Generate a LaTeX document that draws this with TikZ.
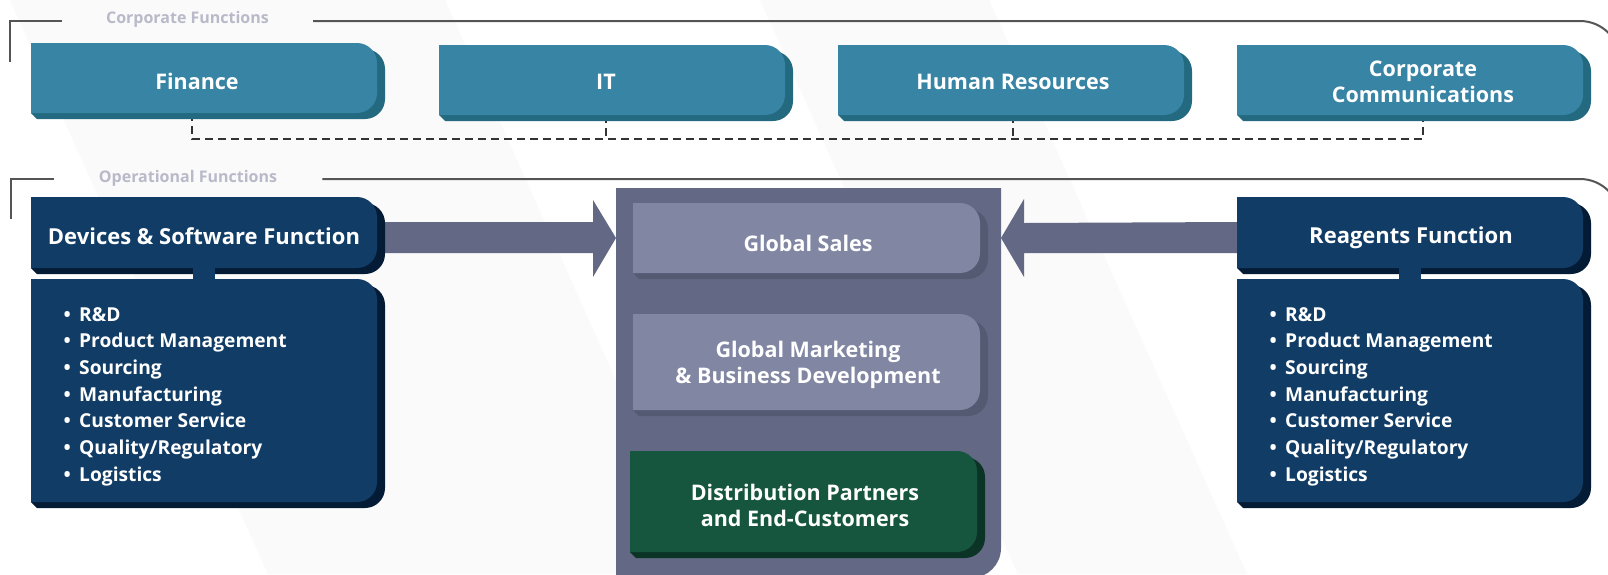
\documentclass[tikz,border=0pt]{standalone}
\usepackage{fontspec}
\setmainfont{Open Sans}
\usetikzlibrary{calc}
\pgfdeclarelayer{front}
\pgfsetlayers{main,front}
\definecolor{ctop}{HTML}{3784A4}
\definecolor{ctopsh}{HTML}{236A80}
\definecolor{cnavy}{HTML}{103C66}
\definecolor{cnavysh}{HTML}{041B36}
\definecolor{cslate}{HTML}{636884}
\definecolor{cgs}{HTML}{8186A3}
\definecolor{cgssh}{HTML}{555A73}
\definecolor{cgreen}{HTML}{16563F}
\definecolor{cgreensh}{HTML}{0B3426}
\definecolor{cline}{HTML}{555555}
\definecolor{clabel}{HTML}{B9B9C9}
\definecolor{cband}{HTML}{FAFAFA}
\definecolor{cdash}{HTML}{333333}
\newcommand{\rbg}[3]{%
 \fill[#3] ([shift={(6pt,-6pt)}]#1.south west) -- (#1.south west) -- (#1.north west) -- ([shift={(-12pt,-6pt)}]#1.north east) arc[start angle=90,end angle=0,radius=20pt] -- ([shift={(8pt,14pt)}]#1.south east) arc[start angle=0,end angle=-90,radius=20pt] -- cycle;
 \fill[#2] (#1.north west) -- ([xshift=-20pt]#1.north east) arc[start angle=90,end angle=0,radius=20pt] -- ([yshift=20pt]#1.south east) arc[start angle=0,end angle=-90,radius=20pt] -- (#1.south west) -- cycle;}
\begin{document}
\begin{tikzpicture}[x=1pt,y=-1pt,
  frame/.style 2 args={inner sep=0pt, outer sep=0pt, anchor=north west, minimum width=#1pt, minimum height=#2pt},
  boxtext/.style={text=white, font=\bfseries\fontsize{21.5}{26}\selectfont, align=center, inner sep=0pt},
  listtext/.style={text=white, font=\bfseries\fontsize{19.2}{26.7}\selectfont, inner sep=0pt, anchor=base west},
  seclabel/.style={text=clabel, font=\bfseries\fontsize{16}{19}\selectfont, inner ysep=0pt, inner xsep=44pt, anchor=base},
  bracket/.style={draw=cline, line width=2pt},
  dashline/.style={draw=cdash, line width=2pt, dash pattern=on 8pt off 5pt},
  stubline/.style={draw=cnavy, line width=22pt},
]
\useasboundingbox (0,0) rectangle (1608,574);
\clip (0,0) rectangle (1608,574);
\fill[white] (0,0) rectangle (1608,574);
\fill[cband] (10,0) -- (445,0) -- (703,574) -- (268,574) -- cycle;
\fill[cband] (760,0) -- (989,0) -- (1247,574) -- (1018,574) -- cycle;

% frames
\node[frame={346}{70}] (fin) at (31,43) {};
\node[frame={346}{70}] (itb) at (439,45) {};
\node[frame={346}{70}] (hrb) at (838,45) {};
\node[frame={346}{70}] (ccb) at (1237,45) {};
\node[frame={346}{71}] (dev) at (31,197) {};
\node[frame={346}{223}] (devl) at (31,279) {};
\node[frame={346}{71}] (rea) at (1237,197) {};
\node[frame={346}{223}] (real) at (1237,279) {};
\node[frame={385}{390}] (col) at (616,188) {};
\node[frame={347}{70}] (gsb) at (633,203) {};
\node[frame={347}{96}] (gmb) at (633,314) {};
\node[frame={347}{101}] (dpb) at (630,451) {};

% texts
\begin{pgfonlayer}{front}
\node[boxtext, anchor=base] (fint) at (197,89) {Finance};
\node[boxtext, anchor=base] (itt) at (606,89) {IT};
\node[boxtext, anchor=base] (hrt) at (1013,89) {Human Resources};
\node[boxtext] (cct) at (1423,82) {Corporate\\Communications};
\node[boxtext, anchor=base, font=\bfseries\fontsize{22}{26}\selectfont] (devt) at (204,244) {Devices \& Software Function};
\node[boxtext, anchor=base, font=\bfseries\fontsize{22}{26}\selectfont] (reat) at (1411,243) {Reagents Function};
\node[boxtext, anchor=base] (gst) at (808,251) {Global Sales};
\node[boxtext] (gmt) at (808,365) {Global Marketing\\\& Business Development};
\node[boxtext] (dpt) at (805,505) {Distribution Partners\\and End-Customers};
\foreach \t [count=\i] in {R\&D,Product Management,Sourcing,Manufacturing,Customer Service,Quality/Regulatory,Logistics}{
  \node[listtext] (dl\i) at (63.4,{321+26.67*(\i-1)}) {\makebox[15.6pt][l]{\textbullet}\t};
  \node[listtext] (rl\i) at (1269.4,{321+26.67*(\i-1)}) {\makebox[15.6pt][l]{\textbullet}\t};
}
\end{pgfonlayer}

% section brackets
\node[seclabel] (corp) at (187.5,23) {Corporate Functions};
\node[seclabel, inner xsep=45pt] (oper) at (188,182) {Operational Functions};
\coordinate (corpc) at (10,21);
\coordinate (corpe) at (10,62);
\draw[bracket] (corpe) -- (corpc) -- (corpc -| corp.west);
\draw[bracket, rounded corners=40pt] (corpc -| corp.east) -- (1620,21) -- (1620,200);
\coordinate (operc) at (11,179);
\coordinate (opere) at (11,219);
\draw[bracket] (opere) -- (operc) -- (operc -| oper.west);
\draw[bracket, rounded corners=40pt] (operc -| oper.east) -- (1620,179) -- (1620,400);

% dashed connectors
\coordinate (bus) at (0,139);
\coordinate (fdash) at (192,0);
\draw[dashline] (fdash |- fin.south) -- (fdash |- bus) -- (cct |- bus) -- (cct |- ccb.south);
\draw[dashline] (itt |- itb.south) -- (itt |- bus);
\draw[dashline] (hrt |- hrb.south) -- (hrt |- bus);

% arrows
\coordinate (ay) at (0,238);
\coordinate (yt) at (0,222);
\coordinate (yb) at (0,253);
\coordinate (ltip) at (col.west |- ay);
\coordinate (rtip) at (col.east |- ay);
\fill[cslate] (dev.east |- yt) -- ($(ltip)+(-23,-16)$) -- ($(ltip)+(-23,-38)$) -- (ltip) -- ($(ltip)+(-23,39)$) -- ($(ltip)+(-23,15)$) -- (dev.east |- yb) -- cycle;
\fill[cslate] (rtip) -- ($(rtip)+(23,-39)$) -- ($(rtip)+(23,-15)$) -- (rea.west |- yt) -- (rea.west |- yb) -- ($(rtip)+(23,15)$) -- ($(rtip)+(23,39)$) -- cycle;

% central column
\fill[cslate] (col.north west) -- (col.north east) -- ([yshift=30pt]col.south east) arc[start angle=0,end angle=-90,radius=30pt] -- (col.south west) -- cycle;

% boxes
\rbg{fin}{ctop}{ctopsh}
\rbg{itb}{ctop}{ctopsh}
\rbg{hrb}{ctop}{ctopsh}
\rbg{ccb}{ctop}{ctopsh}
\rbg{dev}{cnavy}{cnavysh}
\rbg{devl}{cnavy}{cnavysh}
\rbg{rea}{cnavy}{cnavysh}
\rbg{real}{cnavy}{cnavysh}
\rbg{gsb}{cgs}{cgssh}
\rbg{gmb}{cgs}{cgssh}
\rbg{dpb}{cgreen}{cgreensh}

% stubs
\draw[stubline] (dev.south) -- (devl.north);
\draw[stubline] (rea.south) -- (real.north);
\end{tikzpicture}
\end{document}
